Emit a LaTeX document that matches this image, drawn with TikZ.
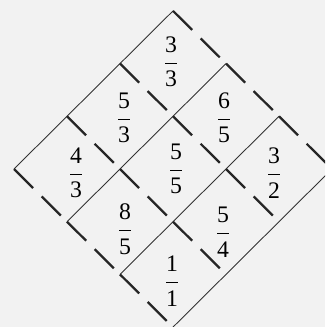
\documentclass[tikz,border=0pt]{standalone}
\usepackage{amsmath}
\usepackage{fontspec}
\setmainfont{Liberation Serif}
\newcommand{\cellfrac}[2]{$\dfrac{\text{#1}}{\text{#2}}$}
\begin{document}
\begin{tikzpicture}[
    x=0.02cm, y=-0.02cm,
    every node/.style={font=\fontsize{13.5}{16}\selectfont},
    val/.style={inner sep=0pt},
    edge/.style={line width=0.5pt, black!80},
    dashseg/.style={line width=1.3pt, black!85,
                    dash pattern=on 0.54cm off 0.24cm on 0.54cm off 0.18cm},
]
% ── Fondo (papel) ──
\fill[black!5] (0,0) rectangle (325,327);
\clip (0,0) rectangle (325,327);

% ── Vértices de la malla ──
\foreach \i in {0,...,3}{
  \foreach \j in {0,...,3}{
    \coordinate (v\i\j) at (14+53*\i+53*\j, 169-52.7*\i+52.7*\j);
  }
}

% ── Líneas continuas (/) ──
\foreach \j in {0,...,3}
  \draw[edge] (v0\j) -- (v3\j);

% ── Líneas a trazos (\) ──
\foreach \i in {0,...,3}
  \foreach \j/\k in {0/1,1/2,2/3}
    \draw[dashseg] (v\i\j) -- (v\i\k);

% ── Valores de las celdas ──
\node[val] (f33) at (171,62)  {\cellfrac{3}{3}};
\node[val] (f53) at (124,118) {\cellfrac{5}{3}};
\node[val] (f65) at (224,118) {\cellfrac{6}{5}};
\node[val] (f43) at (76,173)  {\cellfrac{4}{3}};
\node[val] (f55) at (176,169) {\cellfrac{5}{5}};
\node[val] (f32) at (274,173) {\cellfrac{3}{2}};
\node[val] (f85) at (125,229) {\cellfrac{8}{5}};
\node[val] (f54) at (223,232) {\cellfrac{5}{4}};
\node[val] (f11) at (172,281) {\cellfrac{1}{1}};
\end{tikzpicture}
\end{document}
